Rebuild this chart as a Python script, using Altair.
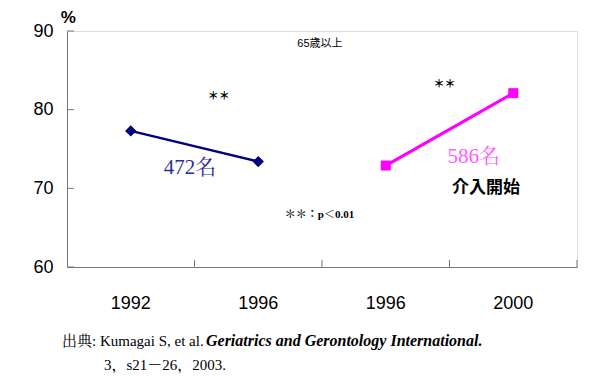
import altair as alt
import pandas as pd

# ---- data ----
keys = ["a", "b", "c", "d"]
years = ["1992", "1996", "1996", "2000"]
groups = ["A", "A", "B", "B"]
values = [77.3, 73.4, 72.9, 82.1]

y_ticks = [60, 70, 80, 90]
x_tick_bounds = [1, 2, 3, 4]

df = pd.DataFrame({"key": keys, "year": years, "group": groups, "value": values})

label_expr = "[" + ",".join(f"'{y}'" for y in years) + "][indexof([" + ",".join(f"'{k}'" for k in keys) + "], datum.value)]"

yscale = alt.Scale(domain=[60, 90], nice=False, zero=False)
ann_x = alt.Scale(domain=[0, 4], nice=False, zero=False)

yaxis = alt.Axis(title=None, values=y_ticks, ticks=False, tickSize=0, labelPadding=14,
                 labelFont="Liberation Sans", labelFontSize=18, labelColor="black",
                 domainColor="#777777", domainWidth=1, grid=False)

base = alt.Chart(df)
xenc = alt.X("key:N", sort=keys,
             scale=alt.Scale(type="band", domain=keys, paddingInner=0, paddingOuter=0),
             axis=alt.Axis(title=None, ticks=False, labelExpr=label_expr, labelAngle=0,
                           labelFont="Liberation Sans", labelFontSize=18,
                           labelColor="black", labelPadding=27, domainColor="#777777",
                           domainWidth=1, grid=False))
yenc = alt.Y("value:Q", scale=yscale, axis=yaxis)

color = alt.Color("group:N", scale=alt.Scale(domain=["A", "B"], range=["#000080", "#FF00FF"]), legend=None)

lines = base.mark_line().encode(
    x=xenc, y=yenc, color=color,
    strokeWidth=alt.StrokeWidth("group:N", scale=alt.Scale(domain=["A", "B"], range=[2.5, 3.2]), legend=None),
    detail="group:N")
points = base.mark_point(filled=True, opacity=1).encode(
    x=xenc, y=yenc, color=color,
    shape=alt.Shape("group:N", scale=alt.Scale(domain=["A", "B"], range=["diamond", "square"]), legend=None),
    size=alt.Size("group:N", scale=alt.Scale(domain=["A", "B"], range=[130, 100]), legend=None))

line_layer = alt.layer(lines, points)

# axis ticks (inward)
ytick_df = pd.DataFrame({"y": y_ticks, "x0": [0] * 4, "x1": [0.055] * 4})
yticks = alt.Chart(ytick_df).mark_rule(color="#777777", strokeWidth=1).encode(
    x=alt.X("x0:Q", scale=ann_x, axis=None), x2="x1:Q",
    y=alt.Y("y:Q", scale=yscale, axis=yaxis))
xtick_df = pd.DataFrame({"x": x_tick_bounds, "y0": [60] * 4, "y1": [60.9] * 4})
xticks = alt.Chart(xtick_df).mark_rule(color="#777777", strokeWidth=1).encode(
    x=alt.X("x:Q", scale=ann_x, axis=None),
    y=alt.Y("y0:Q", scale=yscale, axis=yaxis), y2="y1:Q")


def txt(text, x, y, **kw):
    d = pd.DataFrame({"x": [x], "y": [y], "t": [text]})
    return alt.Chart(d).mark_text(**kw).encode(
        x=alt.X("x:Q", scale=ann_x, axis=None),
        y=alt.Y("y:Q", scale=yscale, axis=yaxis),
        text="t:N")


sans = "Liberation Sans, Noto Sans CJK JP"
serif = "Liberation Serif, Noto Serif CJK JP, Noto Sans CJK JP"

anns = [
    txt("%", 0.01, 91.6, font=sans, fontSize=17, fontWeight="bold", color="black"),
    txt("65歳以上", 1.984, 88.35, font=sans, fontSize=11, color="black"),
    txt("＊＊", 1.19, 81.6, font=sans, fontSize=11, fontWeight="bold", color="black"),
    txt("＊＊", 2.96, 83.1, font=sans, fontSize=11, fontWeight="bold", color="black"),
    txt("472名", 0.965, 72.6, font=serif, fontSize=21, color="#2E2E9A"),
    txt("586名", 3.19, 74.0, font=serif, fontSize=21, color="#FF5CFF"),
    txt("介入開始", 3.286, 70.04, font=sans, fontSize=17, fontWeight="bold", color="black"),
    txt("＊＊：p＜0.01", 1.98, 66.6, font=serif, fontSize=11, fontWeight="bold", color="black"),
    txt("出典: Kumagai S, et al.", -0.039, 50.6, font=serif, fontSize=15, align="left", color="black"),
    txt("Geriatrics and Gerontology International.", 1.09, 50.6, font=serif, fontSize=16,
        fontStyle="italic", fontWeight="bold", align="left", color="black"),
    txt("3，s21－26，2003.", 0.29, 47.6, font=serif, fontSize=15, align="left", color="black"),
]

ann_layer = alt.layer(yticks, xticks, *anns)

chart = alt.layer(line_layer, ann_layer).resolve_scale(x="independent").properties(
    width=510, height=236,
    autosize=alt.AutoSizeParams(type="none"),
    padding={"left": 59, "top": 23, "right": 15, "bottom": 106},
).configure_view(stroke=None).configure(background="white")

chart.save("out.html", embed_options={"renderer": "svg", "actions": False})
